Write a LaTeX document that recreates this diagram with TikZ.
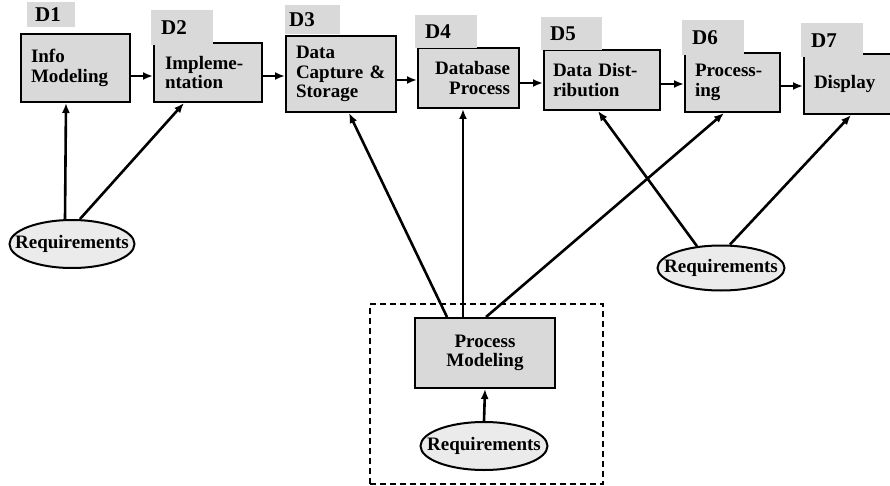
\documentclass[tikz,border=0pt]{standalone}
\usepackage{fontspec}
\setmainfont{Liberation Serif}
\usetikzlibrary{arrows.meta,shapes.geometric}
\definecolor{boxgray}{gray}{0.85}
\definecolor{ellgray}{gray}{0.92}
\begin{document}
\begin{tikzpicture}[x=1pt,y=-1pt,
 box/.style={draw, line width=2pt, fill=boxgray, anchor=north west, align=left, font={\fontsize{19}{19.5}\selectfont\bfseries}, inner ysep=0pt},
 lab/.style={fill=boxgray, anchor=north west, inner ysep=0pt, align=left, font={\fontsize{21}{21}\selectfont\bfseries}},
 req/.style={ellipse, draw, line width=2pt, fill=ellgray, inner sep=0pt, font={\fontsize{19}{19}\selectfont\bfseries}},
 arr/.style={line width=2.6pt, -{Latex[length=10pt,width=8pt]}},
 grpbox/.style={draw, line width=2pt, dash pattern=on 6pt off 4pt, anchor=north west, inner sep=0pt}
]
\useasboundingbox (0,0) rectangle (890,486);
% dashed group
\node[grpbox, minimum width=233pt, minimum height=180pt] (grp) at (369,303) {};
% boxes
\node[box, minimum width=109pt, minimum height=68pt, text width=89pt, inner xsep=10pt] (d1) at (20,33) {Info\\Modeling};
\node[box, minimum width=108pt, minimum height=59pt, text width=86pt, inner xsep=11pt] (d2) at (153,42) {Impleme-\\ntation};
\node[box, minimum width=110pt, minimum height=76pt, text width=90pt, inner xsep=10pt] (d3) at (285,35) {Data\\Capture \&\\Storage};
\node[box, minimum width=101pt, minimum height=60pt, text width=83pt, inner xsep=9pt, align=right] (d4) at (417,47) {Database\\Process};
\node[box, minimum width=116pt, minimum height=60pt, text width=98pt, inner xsep=9pt] (d5) at (543,49) {Data Dist-\\ribution};
\node[box, minimum width=95pt, minimum height=59pt, text width=75pt, inner xsep=10pt] (d6) at (684,52) {Process-\\ing};
\node[box, minimum width=92pt, minimum height=60pt, text width=72pt, inner xsep=10pt] (d7) at (803,53) {Display};
% labels
\node[lab, minimum width=48pt, minimum height=25pt, text width=32pt, inner xsep=8pt] (l1) at (27,2) {D1};
\node[lab, minimum width=62pt, minimum height=35pt, text width=42pt, inner xsep=10pt] (l2) at (151,10) {D2};
\node[lab, minimum width=55pt, minimum height=29pt, text width=47pt, inner xsep=4pt] (l3) at (285,5) {D3};
\node[lab, minimum width=62pt, minimum height=33pt, text width=42pt, inner xsep=10pt] (l4) at (415,15) {D4};
\node[lab, minimum width=61pt, minimum height=33pt, text width=43pt, inner xsep=9pt] (l5) at (541,17) {D5};
\node[lab, minimum width=62pt, minimum height=35pt, text width=42pt, inner xsep=10pt] (l6) at (682,20) {D6};
\node[lab, minimum width=62pt, minimum height=34pt, text width=42pt, inner xsep=10pt] (l7) at (801,23) {D7};
% process modeling
\node[box, minimum width=140pt, minimum height=70pt, align=center] (pm) at (414,317) {Process\\Modeling};
% requirements
\node[req, minimum width=125pt, minimum height=48pt] (r1) at (72,244) {\makebox[0pt]{Requirements}};
\node[req, minimum width=127pt, minimum height=45pt] (r2) at (721,268) {\makebox[0pt]{Requirements}};
\node[req, minimum width=127pt, minimum height=48pt] (r3) at (484,446) {\makebox[0pt]{Requirements}};
% chain arrows
\draw[arr] ([yshift=-8pt]d1.east) -- ([yshift=-3.5pt]d2.west);
\draw[arr] ([yshift=-3.5pt]d2.east) -- ([yshift=-2pt]d3.west);
\draw[arr] ([yshift=-6pt]d3.east) -- ([yshift=-2pt]d4.west);
\draw[arr] ([yshift=-5pt]d4.east) -- ([yshift=-3pt]d5.west);
\draw[arr] ([yshift=-4pt]d5.east) -- ([yshift=-1.5pt]d6.west);
\draw[arr] ([yshift=-3.5pt]d6.east) -- ([yshift=-2pt]d7.west);
% requirement arrows
\draw[arr] ([xshift=-7pt]r1.north) -- ([xshift=-9.5pt]d1.south);
\draw[arr] ([xshift=8pt]r1.north) -- ([xshift=-24pt]d2.south);
\draw[arr] ([xshift=-38pt]pm.north) -- ([xshift=8pt]d3.south);
\draw[arr] ([xshift=-22pt]pm.north) -- ([xshift=-5.5pt]d4.south);
\draw[arr] ([xshift=1pt]pm.north) -- ([xshift=-8.5pt]d6.south);
\draw[arr] ([xshift=-24pt,yshift=-1.7pt]r2.north) -- ([xshift=-4pt]d5.south);
\draw[arr] ([xshift=9pt]r2.north) -- ([xshift=1pt]d7.south);
\draw[arr] (r3.north) -- (pm.south);
\end{tikzpicture}
\end{document}
